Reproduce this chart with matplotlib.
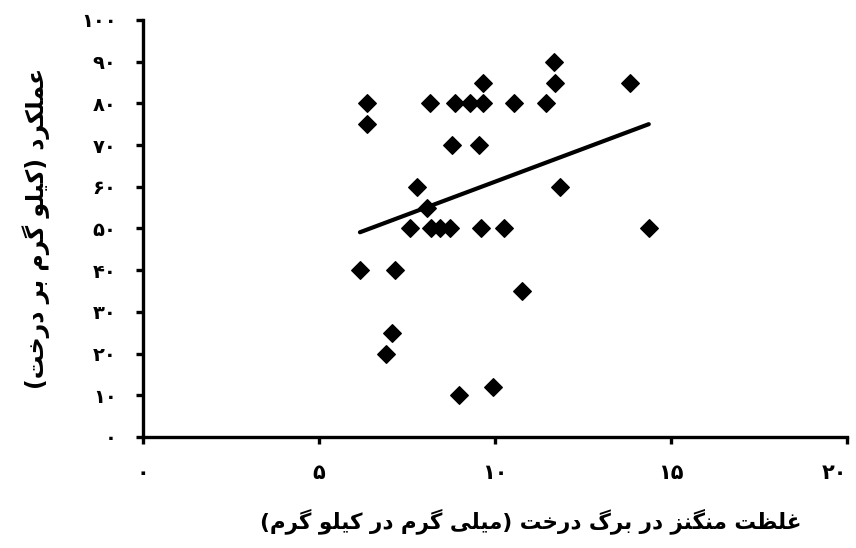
import numpy as np
import matplotlib
matplotlib.use("Agg")
import matplotlib.pyplot as plt

# داده ها: غلظت منگنز (x) و عملکرد (y)
manganese = [6.37, 6.35, 8.14, 8.87, 9.28, 9.64, 9.64, 10.52, 11.45, 11.67,
             11.71, 13.84, 8.77, 9.54, 7.78, 11.83, 8.05, 7.57, 8.19, 8.43,
             8.71, 9.61, 10.24, 14.36, 6.16, 7.15, 10.77, 7.08, 6.91, 8.97, 9.94]
yield_kg = [80, 75, 80, 80, 80, 80, 85, 80, 80, 90,
            85, 85, 70, 70, 60, 60, 55, 50, 50, 50,
            50, 50, 50, 50, 40, 40, 35, 25, 20, 10, 12]

x_ticks = [0, 5, 10, 15, 20]
y_ticks = [0, 10, 20, 30, 40, 50, 60, 70, 80, 90, 100]

x_label = "غلظت منگنز در برگ درخت (میلی گرم در کیلو گرم)"
y_label = "عملکرد (کیلو گرم بر درخت)"

# شکل دادن حروف فارسی (matplotlib خودش این کار را نمی کند)
DUAL = {
    'ب': (0xFE8F, 0xFE90, 0xFE91, 0xFE92), 'ت': (0xFE95, 0xFE96, 0xFE97, 0xFE98),
    'خ': (0xFEA5, 0xFEA6, 0xFEA7, 0xFEA8), 'ظ': (0xFEC5, 0xFEC6, 0xFEC7, 0xFEC8),
    'ع': (0xFEC9, 0xFECA, 0xFECB, 0xFECC), 'غ': (0xFECD, 0xFECE, 0xFECF, 0xFED0),
    'ک': (0xFB8E, 0xFB8F, 0xFB90, 0xFB91), 'گ': (0xFB92, 0xFB93, 0xFB94, 0xFB95),
    'ل': (0xFEDD, 0xFEDE, 0xFEDF, 0xFEE0), 'م': (0xFEE1, 0xFEE2, 0xFEE3, 0xFEE4),
    'ن': (0xFEE5, 0xFEE6, 0xFEE7, 0xFEE8), 'ی': (0xFBFC, 0xFBFD, 0xFBFE, 0xFBFF),
}
RIGHT = {
    'ا': (0xFE8D, 0xFE8E), 'د': (0xFEA9, 0xFEAA), 'ر': (0xFEAD, 0xFEAE),
    'ز': (0xFEAF, 0xFEB0), 'و': (0xFEED, 0xFEEE),
}


def shape(text):
    out = []
    n = len(text)
    for i, ch in enumerate(text):
        prev = text[i - 1] if i > 0 else ''
        nxt = text[i + 1] if i < n - 1 else ''
        join_prev = prev in DUAL
        join_next = nxt in DUAL or nxt in RIGHT
        if ch in DUAL:
            f = DUAL[ch]
            if join_prev and join_next:
                out.append(chr(f[3]))
            elif join_prev:
                out.append(chr(f[1]))
            elif join_next:
                out.append(chr(f[2]))
            else:
                out.append(chr(f[0]))
        elif ch in RIGHT:
            f = RIGHT[ch]
            out.append(chr(f[1]) if join_prev else chr(f[0]))
        else:
            out.append(ch)
    mirror = {'(': ')', ')': '('}
    return ''.join(mirror.get(c, c) for c in reversed(out))


def fa_num(v):
    return str(v).translate(str.maketrans('0123456789', '۰۱۲۳۴۵۶۷۸۹'))


x = np.array(manganese)
y = np.array(yield_kg)
k, b = np.polyfit(x, y, 1)
xs = np.array([x.min(), x.max()])

fig = plt.figure(figsize=(8.56, 5.48), dpi=100)
ax = fig.add_axes([0.167, 0.2026, 0.823, 0.761])

ax.scatter(x, y, marker='D', s=80, color='black', zorder=3)
ax.plot(xs, k * xs + b, color='black', lw=3, solid_capstyle='round', zorder=2)

ax.set_xlim(0, 20)
ax.set_ylim(0, 100)
ax.set_xticks(x_ticks)
ax.set_yticks(y_ticks)
ax.set_xticklabels([fa_num(v) for v in x_ticks], fontsize=15, fontweight='bold',
                   family='DejaVu Sans')
ax.set_yticklabels([fa_num(v) for v in y_ticks], fontsize=14, fontweight='bold',
                   family='DejaVu Sans')
# آخرین برچسب کمی به چپ تا از لبه بیرون نزند
ax.get_xticklabels()[-1].set_horizontalalignment('right')

for s in ['top', 'right']:
    ax.spines[s].set_visible(False)
for s in ['left', 'bottom']:
    ax.spines[s].set_linewidth(2.4)
ax.tick_params(axis='both', direction='out', length=5, width=2.4)
ax.tick_params(axis='x', pad=14)
ax.tick_params(axis='y', pad=14)

ax.set_xlabel(shape(x_label), fontsize=15.5, fontweight='bold', labelpad=18)
ax.xaxis.set_label_coords(0.55, -0.17)
ax.set_ylabel(shape(y_label), fontsize=17, fontweight='bold', labelpad=22)

plt.savefig('out.png', dpi=100)
